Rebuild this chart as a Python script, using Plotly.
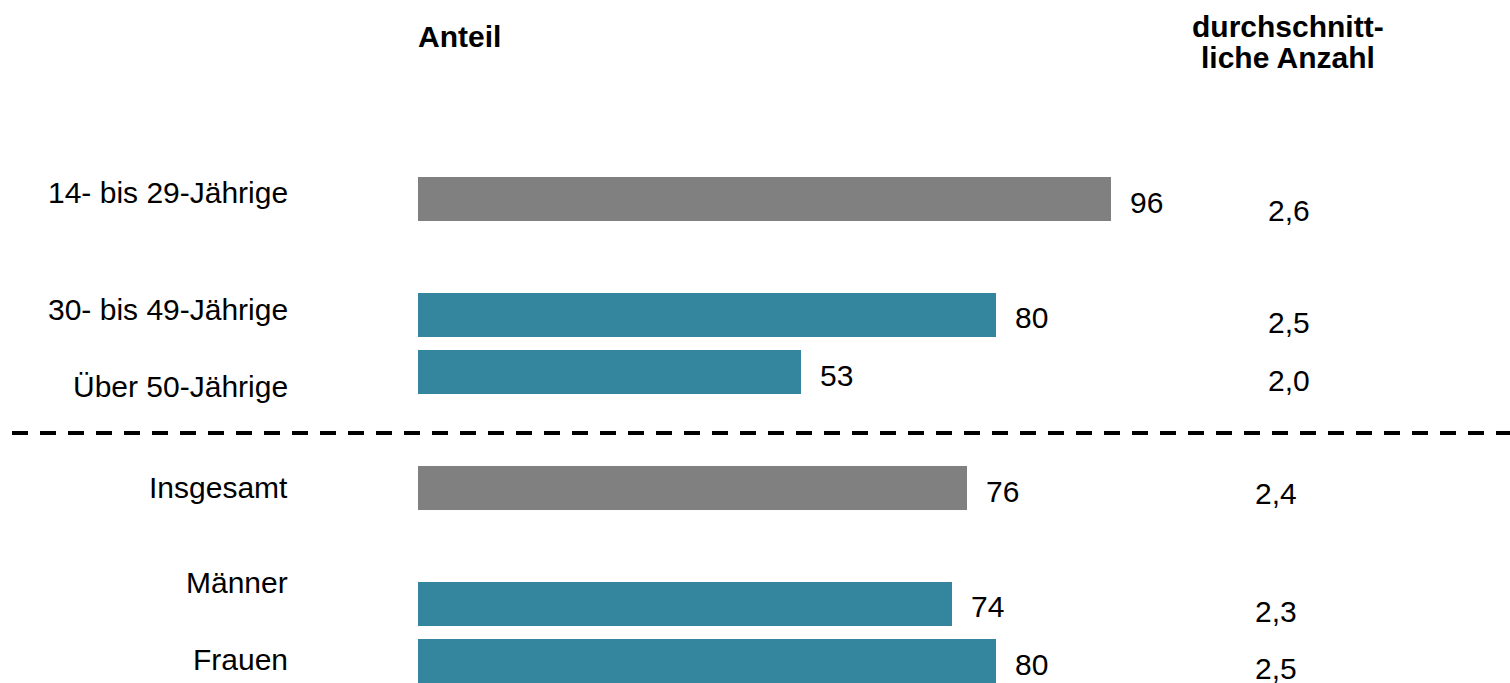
import plotly.graph_objects as go

# ---- data ----
categories = ["14- bis 29-Jährige", "30- bis 49-Jährige", "Über 50-Jährige",
              "Insgesamt", "Männer", "Frauen"]
anteil = [96, 80, 53, 76, 74, 80]
durchschnitt = ["2,6", "2,5", "2,0", "2,4", "2,3", "2,5"]
header_left = "Anteil"
header_right = ["durchschnitt-", "liche Anzahl"]

# ---- layout helpers (positions / styles) ----
slot = [0, 2, 3, 5, 7, 8]            # vertical slots of bars
colors = ["#808080", "#33869E", "#33869E", "#808080", "#33869E", "#33869E"]
label_yshift = [6.5, 5, -14.5, 1, 21.5, 1.5]
avg_yshift = [-11, -8, -8, -5, -8, -7]
avg_x = [120.6, 120.6, 120.6, 118.8, 118.8, 118.8]

FONT = "Liberation Sans, Arial, sans-serif"
FS = 30
W, H = 1510, 683
ML = 418

fig = go.Figure()
fig.add_trace(go.Bar(
    x=anteil, y=slot, orientation="h",
    marker=dict(color=colors, line=dict(width=0)),
    width=0.76, hoverinfo="skip", showlegend=False,
))

ann = []
for i, cat in enumerate(categories):
    ann.append(dict(x=(290 - ML) / (W - ML), xref="paper", y=slot[i], yref="y",
                    text=cat, xanchor="right", yanchor="middle",
                    yshift=label_yshift[i], showarrow=False,
                    font=dict(family=FONT, size=FS, color="#000")))
    ann.append(dict(x=anteil[i], xref="x", y=slot[i], yref="y",
                    text=str(anteil[i]), xanchor="left", yanchor="middle",
                    xshift=17, yshift=-3, showarrow=False,
                    font=dict(family=FONT, size=FS, color="#000")))
    ann.append(dict(x=avg_x[i], xref="x", y=slot[i], yref="y",
                    text=durchschnitt[i], xanchor="center", yanchor="middle",
                    yshift=avg_yshift[i], showarrow=False,
                    font=dict(family=FONT, size=FS, color="#000")))

ann.append(dict(x=(459 - ML) / (W - ML), xref="paper", y=1 - 36 / H, yref="paper",
                text="<b>%s</b>" % header_left, xanchor="center", yanchor="middle",
                showarrow=False, font=dict(family=FONT, size=FS, color="#000")))
for j, line in enumerate(header_right):
    ann.append(dict(x=(1288 - ML) / (W - ML), xref="paper",
                    y=1 - (26 + 31 * j) / H, yref="paper",
                    text="<b>%s</b>" % line, xanchor="center", yanchor="middle",
                    showarrow=False, font=dict(family=FONT, size=FS, color="#000")))

unit = 57.8
y_top = -199 / unit
y_bot = (H - 199) / unit

fig.update_layout(
    width=W, height=H,
    margin=dict(l=ML, r=0, t=0, b=0),
    paper_bgcolor="white", plot_bgcolor="white",
    xaxis=dict(range=[0, (W - ML) / 7.22], visible=False, fixedrange=True),
    yaxis=dict(range=[y_bot, y_top], visible=False, fixedrange=True),
    annotations=ann,
    shapes=[dict(type="line", xref="paper", yref="paper",
                 x0=(12 - ML) / (W - ML), x1=1.0,
                 y0=1 - 433 / H, y1=1 - 433 / H,
                 line=dict(color="black", width=4, dash="16px,12px"))],
    bargap=0,
)

fig.write_html("out.html", config={"displayModeBar": False},
               post_script="document.body.style.margin='0';document.body.style.overflow='hidden';")
